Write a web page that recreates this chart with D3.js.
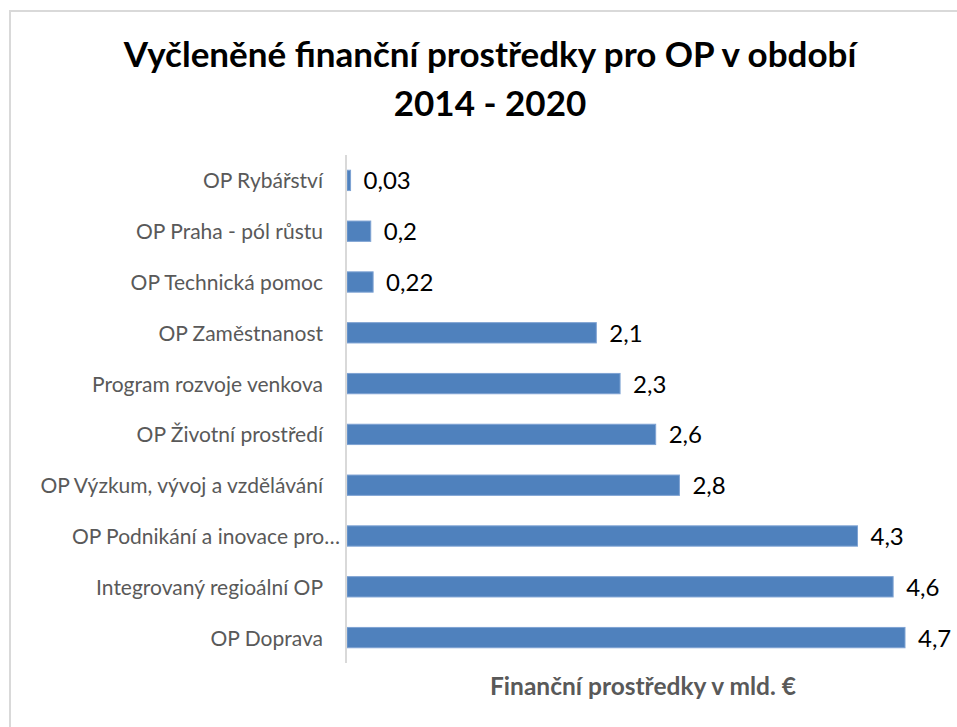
<!DOCTYPE html>
<html lang="cs">
<head>
<meta charset="UTF-8">
<title>Vyčleněné finanční prostředky pro OP v období 2014 - 2020</title>
<style>
    body {
        margin: 0;
        background: #fff;
        font-family: Lato, 'Open Sans', sans-serif;
    }
    .cat { fill: #595959; font-size: 21px; }
    .val { fill: #000; font-size: 24px; }
    .title { fill: #000; font-size: 35px; font-weight: bold; }
    .axis-title { fill: #595959; font-size: 24.5px; font-weight: bold; }
</style>
</head>
<body>
<div id="chart"></div>
<script src="https://d3js.org/d3.v7.min.js"></script>
<script>
    const categories = [
        "OP Rybářství",
        "OP Praha - pól růstu",
        "OP Technická pomoc",
        "OP Zaměstnanost",
        "Program rozvoje venkova",
        "OP Životní prostředí",
        "OP Výzkum, vývoj a vzdělávání",
        "OP Podnikání a inovace pro…",
        "Integrovaný regioální OP",
        "OP Doprava"
    ];
    const values = [0.03, 0.2, 0.22, 2.1, 2.3, 2.6, 2.8, 4.3, 4.6, 4.7];
    const valueLabels = ["0,03", "0,2", "0,22", "2,1", "2,3", "2,6", "2,8", "4,3", "4,6", "4,7"];
    const titleLines = ["Vyčleněné finanční prostředky pro OP v období", "2014 - 2020"];
    const axisTitle = "Finanční prostředky v mld. €";

    const width = 957, height = 727;
    const plot = { left: 347, top: 155, bottom: 663 };

    const svg = d3.select("#chart").append("svg")
        .attr("width", width)
        .attr("height", height);

    // chart frame (cut off at right and bottom like the screenshot)
    svg.append("rect")
        .attr("x", 10).attr("y", 11)
        .attr("width", 980).attr("height", 760)
        .attr("fill", "#fff")
        .attr("stroke", "#d9d9d9")
        .attr("stroke-width", 2);

    const x = d3.scaleLinear().domain([0, 4.7]).range([plot.left, 905]);
    const y = d3.scaleBand().domain(categories).range([plot.top, plot.bottom]).paddingInner(0.6).paddingOuter(0.3);

    svg.selectAll("rect.bar")
        .data(values)
        .enter().append("rect")
        .attr("class", "bar")
        .attr("x", x(0))
        .attr("y", (d, i) => y(categories[i]))
        .attr("width", d => x(d) - x(0))
        .attr("height", y.bandwidth())
        .attr("fill", "#4f81bd")
        .attr("stroke", "#7fa3d3")
        .attr("stroke-width", 1);

    svg.selectAll("text.val")
        .data(values)
        .enter().append("text")
        .attr("class", "val")
        .attr("x", d => x(d) + 13)
        .attr("y", (d, i) => y(categories[i]) + y.bandwidth() / 2 + 9)
        .text((d, i) => valueLabels[i]);

    svg.selectAll("text.cat")
        .data(categories)
        .enter().append("text")
        .attr("class", "cat")
        .attr("text-anchor", "end")
        .attr("x", d => d.endsWith("…") ? 340 : 323)
        .attr("y", d => y(d) + y.bandwidth() / 2 + 8)
        .text(d => d);

    // category axis line
    svg.append("line")
        .attr("x1", plot.left - 1).attr("x2", plot.left - 1)
        .attr("y1", plot.top).attr("y2", plot.bottom)
        .attr("stroke", "#d9d9d9")
        .attr("stroke-width", 2);

    svg.selectAll("text.title")
        .data(titleLines)
        .enter().append("text")
        .attr("class", "title")
        .attr("text-anchor", "middle")
        .attr("x", 490)
        .attr("y", (d, i) => 67 + i * 49)
        .text(d => d);

    svg.append("text")
        .attr("class", "axis-title")
        .attr("text-anchor", "middle")
        .attr("x", 643)
        .attr("y", 695)
        .text(axisTitle);
</script>
</body>
</html>
